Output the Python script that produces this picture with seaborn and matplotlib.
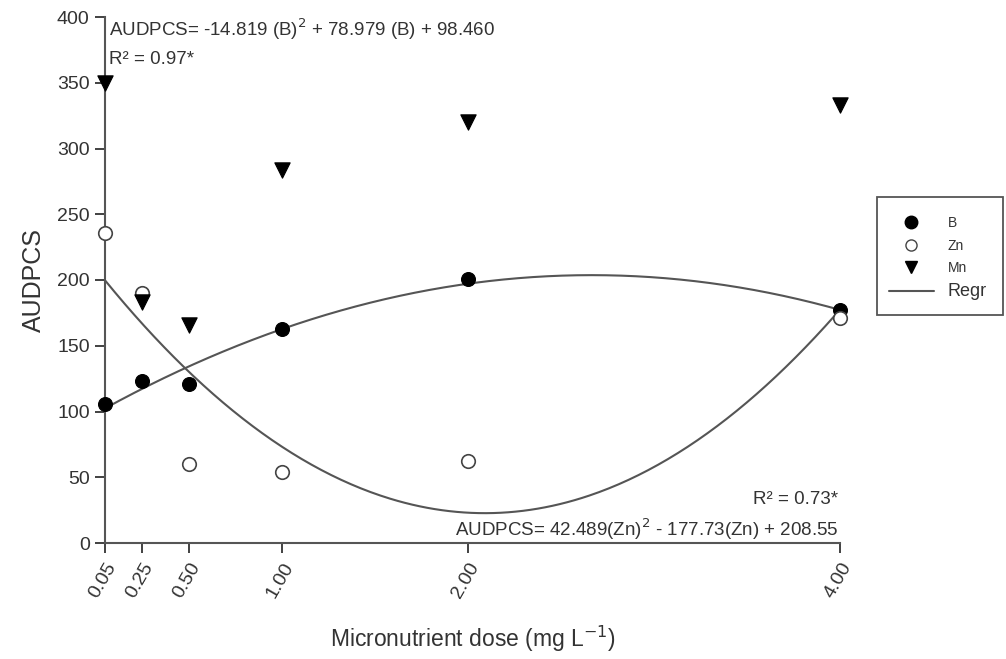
import numpy as np
import pandas as pd
import matplotlib
matplotlib.use("Agg")
import matplotlib.pyplot as plt
from matplotlib.lines import Line2D
from matplotlib.patches import Rectangle
import seaborn as sns

doses = [0.05, 0.25, 0.50, 1.00, 2.00, 4.00]
tick_labels = ["0.05", "0.25", "0.50", "1.00", "2.00", "4.00"]
b_vals = [106, 123, 121, 163, 201, 177]
zn_vals = [236, 190, 60, 54, 62, 171]
mn_vals = [350, 183, 166, 284, 320, 333]
b_coef = [-14.819, 78.979, 98.460]
zn_coef = [42.489, -177.73, 208.55]

sns.set_theme(style="ticks")
plt.rcParams['font.family'] = ['Liberation Sans', 'DejaVu Sans']

W, H = 1006, 659
fig = plt.figure(figsize=(W/100, H/100), dpi=100)
ax = fig.add_axes([105/W, 1-543/H, (840-105)/W, (543-17)/H])

df = pd.DataFrame({
    "dose": doses * 3,
    "AUDPCS": b_vals + zn_vals + mn_vals,
    "el": ["B"] * 6 + ["Zn"] * 6 + ["Mn"] * 6,
})

sns.scatterplot(data=df[df.el == "B"], x="dose", y="AUDPCS", ax=ax, marker="o",
                color="black", edgecolor="black", s=100, zorder=3, clip_on=False, legend=False)
sns.scatterplot(data=df[df.el == "Zn"], x="dose", y="AUDPCS", ax=ax, marker="o",
                facecolor="white", edgecolor="#444444", linewidth=1.2, s=95, zorder=3,
                clip_on=False, legend=False)
sns.scatterplot(data=df[df.el == "Mn"], x="dose", y="AUDPCS", ax=ax, marker="v",
                color="black", edgecolor="black", s=120, zorder=3, clip_on=False, legend=False)

xs = np.linspace(doses[0], doses[-1], 300)
sns.lineplot(x=xs, y=np.polyval(b_coef, xs), ax=ax, color="#555555", lw=1.5, zorder=2)
sns.lineplot(x=xs, y=np.polyval(zn_coef, xs), ax=ax, color="#555555", lw=1.5, zorder=2)

ax.set_xlim(0.05, 4.0)
ax.set_ylim(0, 400)
ax.set_yticks(range(0, 401, 50))
ax.set_xticks(doses)
ax.set_xticklabels(tick_labels, rotation=60, ha="right", rotation_mode="anchor", fontsize=14, color="#333333")
ax.tick_params(axis="y", labelsize=14, colors="#333333", length=7, width=1.3, pad=4)
ax.tick_params(axis="x", length=7, width=1.3, colors="#333333", pad=5)
for s in ["left", "bottom"]:
    ax.spines[s].set_color("#555555")
    ax.spines[s].set_linewidth(1.5)
sns.despine(ax=ax)

ax.set_xlabel("Micronutrient dose (mg L$^{-1}$)", fontsize=16.5, color="#333333", labelpad=16)
ax.set_ylabel("AUDPCS", fontsize=18, color="#333333", labelpad=8)

ax.text(0.07, 391, "AUDPCS= -14.819 (B)$^2$ + 78.979 (B) + 98.460", fontsize=13.5,
        color="#333333", va="center", ha="left")
ax.text(0.07, 368, "R² = 0.97*", fontsize=13.5, color="#333333", va="center", ha="left")
ax.text(3.99, 33, "R² = 0.73*", fontsize=13.5, color="#333333", va="center", ha="right")
ax.text(3.99, 10.5, "AUDPCS= 42.489(Zn)$^2$ - 177.73(Zn) + 208.55", fontsize=13.5,
        color="#333333", va="center", ha="right")

# legend box
fig.patches.append(Rectangle((877/W, 1-315/H), (1003-877)/W, (315-197)/H,
                             transform=fig.transFigure, fill=False,
                             edgecolor="#555555", linewidth=1.3))
handles = [
    Line2D([], [], marker="o", color="black", ls="none", markersize=9),
    Line2D([], [], marker="o", markerfacecolor="white", markeredgecolor="#444444", ls="none", markersize=8),
    Line2D([], [], marker="v", color="black", ls="none", markersize=9),
    Line2D([], [], color="#555555", lw=1.5),
]
leg = fig.legend(handles, ["B", "Zn", "Mn", "Regr"], loc="upper left",
                 bbox_to_anchor=(885/W, 1-212/H), frameon=False,
                 fontsize=10, handlelength=3.2, borderpad=0.3, labelspacing=0.6,
                 handletextpad=1.0, borderaxespad=0)
for t in leg.get_texts():
    t.set_color("#333333")
leg.get_texts()[3].set_fontsize(13)

fig.savefig("out.png", dpi=100)
